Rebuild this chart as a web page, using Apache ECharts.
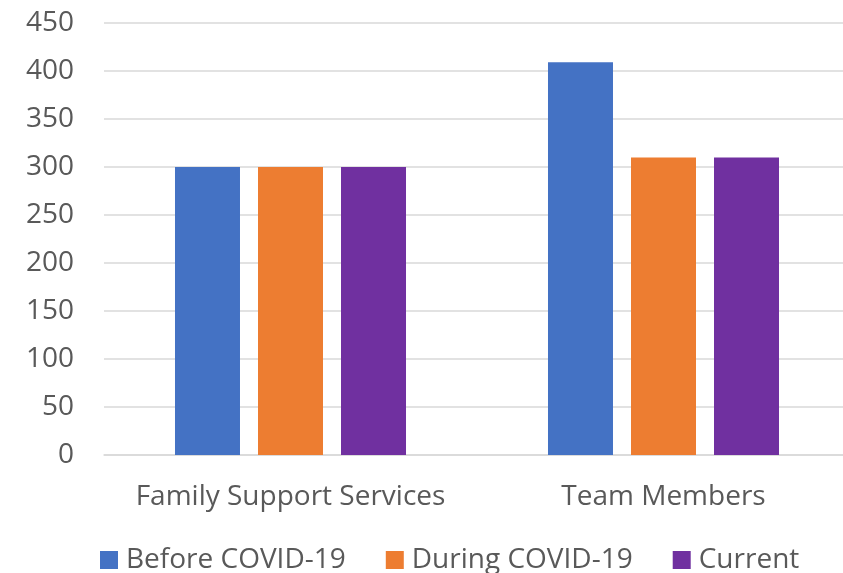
<!DOCTYPE html>
<html>
<head>
<meta charset="utf-8">
<script src="https://cdn.jsdelivr.net/npm/echarts@6/dist/echarts.min.js"></script>
<style>
  html, body { margin: 0; padding: 0; background: #fff; }
  #chart { width: 843px; height: 573px; }
</style>
</head>
<body>
<div id="chart"></div>
<script>
// Categories and series values
const categories = ['Family Support Services', 'Team Members'];
const seriesNames = ['Before COVID-19', 'During COVID-19', 'Current'];
const beforeCovid = [300, 409];
const duringCovid = [300, 310];
const current = [300, 310];
const seriesColors = ['#4472C4', '#ED7D31', '#7030A0'];

const values = [beforeCovid, duringCovid, current];
const fontFamily = '"Open Sans", "Noto Sans", sans-serif';
const textColor = '#595959';

const chart = echarts.init(document.getElementById('chart'), null, { renderer: 'canvas' });

chart.setOption({
  animation: false,
  backgroundColor: '#ffffff',
  textStyle: { fontFamily: fontFamily },
  grid: { left: 104, top: 23, width: 746, height: 432, containLabel: false, outerBoundsMode: 'none' },
  legend: {
    data: seriesNames,
    left: 95,
    top: 541,
    icon: 'rect',
    itemWidth: 18,
    itemHeight: 18,
    itemGap: 40,
    textStyle: { color: textColor, fontSize: 28, fontFamily: fontFamily, padding: [0, 0, 0, 3] }
  },
  xAxis: {
    type: 'category',
    data: categories,
    axisLine: { show: true, lineStyle: { color: '#d9d9d9', width: 1.5 } },
    axisTick: { show: false },
    axisLabel: { color: textColor, fontSize: 28, margin: 28, interval: 0, fontFamily: fontFamily }
  },
  yAxis: {
    type: 'value',
    min: 0,
    max: 450,
    interval: 50,
    axisLine: { show: false },
    axisTick: { show: false },
    splitLine: { lineStyle: { color: '#d9d9d9', width: 1.5 } },
    axisLabel: { color: textColor, fontSize: 28, margin: 30, fontFamily: fontFamily }
  },
  series: seriesNames.map((name, i) => ({
    name: name,
    type: 'bar',
    data: values[i],
    barWidth: 65,
    barGap: '27.7%',
    itemStyle: { color: seriesColors[i] }
  }))
});
</script>
</body>
</html>
